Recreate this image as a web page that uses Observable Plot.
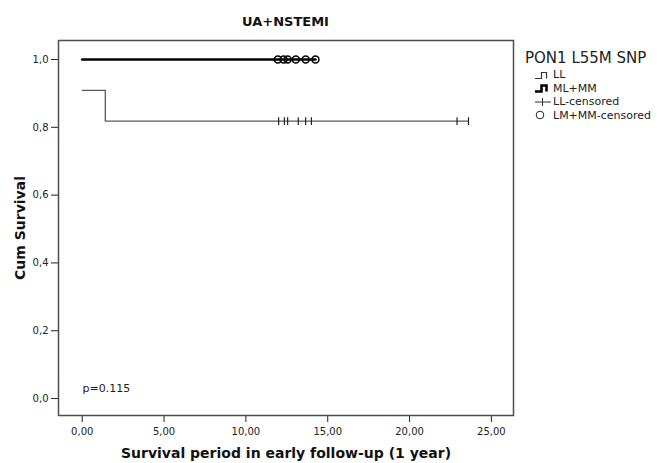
<!DOCTYPE html>
<html>
<head>
<meta charset="utf-8">
<script src="https://cdn.jsdelivr.net/npm/d3@7"></script>
<script src="https://cdn.jsdelivr.net/npm/@observablehq/plot@0.6"></script>
<style>
  html, body { margin: 0; padding: 0; background: #fff; }
  #chart { position: relative; width: 657px; height: 463px; font-family: "DejaVu Sans", sans-serif; color: #222; overflow: hidden; }
  #chart > svg { position: absolute; left: 0; top: 0; }
  .title { position: absolute; left: 58px; width: 455px; top: 14px; text-align: center; font-weight: bold; font-size: 13px; line-height: 16px; color: #111; }
  .legend { position: absolute; left: 525px; top: 49px; font-size: 11px; white-space: nowrap; }
  .legend .head { font-size: 15px; line-height: 19px; margin-bottom: 0px; }
  .legend .row { display: flex; align-items: center; height: 13.5px; margin-left: 9px; }
  .legend .row svg { display: block; flex: none; }
</style>
</head>
<body>
<div id="chart"></div>
<script>
// Kaplan–Meier curves, PON1 L55M SNP, UA+NSTEMI subgroup
const title = "UA+NSTEMI";
const legendTitle = "PON1 L55M SNP";
const pValue = "p=0.115";

// LL group: step curve (time, cumulative survival)
const llTime = [0, 1.41, 23.6];
const llSurv = [10 / 11, 9 / 11, 9 / 11];
// LL censored times (on the 9/11 plateau)
const llCensTime = [12.0, 12.35, 12.55, 13.2, 13.65, 14.0, 22.9, 23.6];

// ML+MM group: no events
const mmTime = [0, 14.25];
const mmSurv = [1, 1];
// ML+MM censored times
const mmCensTime = [11.95, 12.3, 12.55, 13.05, 13.65, 14.25];

const xTicks = [0, 5, 10, 15, 20, 25];
const yTicks = [0, 0.2, 0.4, 0.6, 0.8, 1.0];

const ll = llTime.map((t, i) => ({t, s: llSurv[i]}));
const mm = mmTime.map((t, i) => ({t, s: mmSurv[i]}));
const llCens = llCensTime.map(t => ({t, s: 9 / 11}));
const mmCens = mmCensTime.map(t => ({t, s: 1}));

// vertical dash used for censoring marks on the LL curve
const vbar = {
  draw(ctx, size) {
    const r = Math.sqrt(size) / 2;
    ctx.moveTo(0, -r);
    ctx.lineTo(0, r);
  }
};

const comma = (d, n) => d.toFixed(n).replace(".", ",");

const plot = Plot.plot({
  width: 657,
  height: 463,
  marginLeft: 58,
  marginRight: 144,
  marginTop: 40,
  marginBottom: 48,
  style: {fontFamily: "DejaVu Sans, sans-serif", fontSize: "10px", color: "#222", background: "transparent"},
  x: {domain: [-1.45, 26.35]},
  y: {domain: [-0.05, 1.056]},
  marks: [
    Plot.axisX({ticks: xTicks, tickSize: 7, tickPadding: 5, tickFormat: d => comma(d, 2),
      label: "Survival period in early follow-up (1 year)", labelAnchor: "center", labelArrow: "none", labelOffset: 42}),
    Plot.axisY({ticks: yTicks, tickSize: 7, tickPadding: 3, tickFormat: d => comma(d, 1),
      label: "Cum Survival", labelAnchor: "center", labelArrow: "none", labelOffset: 43}),
    Plot.frame({stroke: "#4d4d4d", strokeWidth: 1.5}),
    Plot.line(ll, {x: "t", y: "s", curve: "step-after", stroke: "#5a5a5a", strokeWidth: 1.3}),
    Plot.line(mm, {x: "t", y: "s", curve: "step-after", stroke: "#000", strokeWidth: 2.6}),
    Plot.dot(llCens, {x: "t", y: "s", symbol: vbar, r: 4.4, stroke: "#222", strokeWidth: 1.2}),
    Plot.dot(mmCens, {x: "t", y: "s", r: 3.5, stroke: "#000", strokeWidth: 1.5, fill: "none"}),
    Plot.text([pValue], {frameAnchor: "bottom-left", dx: 24, dy: -24, fontSize: 11, textAnchor: "start", fill: "#222"})
  ]
});

// bold axis titles
plot.querySelectorAll("[aria-label='x-axis label'] text, [aria-label='y-axis label'] text").forEach(t => {
  t.setAttribute("font-weight", "bold");
  t.setAttribute("font-size", "14");
  t.setAttribute("fill", "#111");
});

const chart = document.getElementById("chart");
chart.appendChild(plot);

const t = document.createElement("div");
t.className = "title";
t.textContent = title;
chart.appendChild(t);

// legend
const lg = document.createElement("div");
lg.className = "legend";
lg.innerHTML = `<div class="head">${legendTitle}</div>`;
const items = [
  {label: "LL", kind: "step", w: 1.2, c: "#333"},
  {label: "ML+MM", kind: "step", w: 2.6, c: "#000"},
  {label: "LL-censored", kind: "plus"},
  {label: "LM+MM-censored", kind: "circle"}
];
for (const it of items) {
  const row = document.createElement("div");
  row.className = "row";
  let sym = "";
  if (it.kind === "step") {
    sym = `<svg width="19" height="10"><path d="M1,8.5H7.5V2.5H12.5V8.5" fill="none" stroke="${it.c}" stroke-width="${it.w}"/></svg>`;
  } else if (it.kind === "plus") {
    sym = `<svg width="19" height="10"><path d="M1,5H17M8.5,1V9" fill="none" stroke="#333" stroke-width="1"/></svg>`;
  } else {
    sym = `<svg width="19" height="10"><circle cx="6" cy="5" r="3.8" fill="none" stroke="#222" stroke-width="1"/></svg>`;
  }
  row.innerHTML = sym + `<span>${it.label}</span>`;
  lg.appendChild(row);
}
chart.appendChild(lg);
</script>
</body>
</html>
